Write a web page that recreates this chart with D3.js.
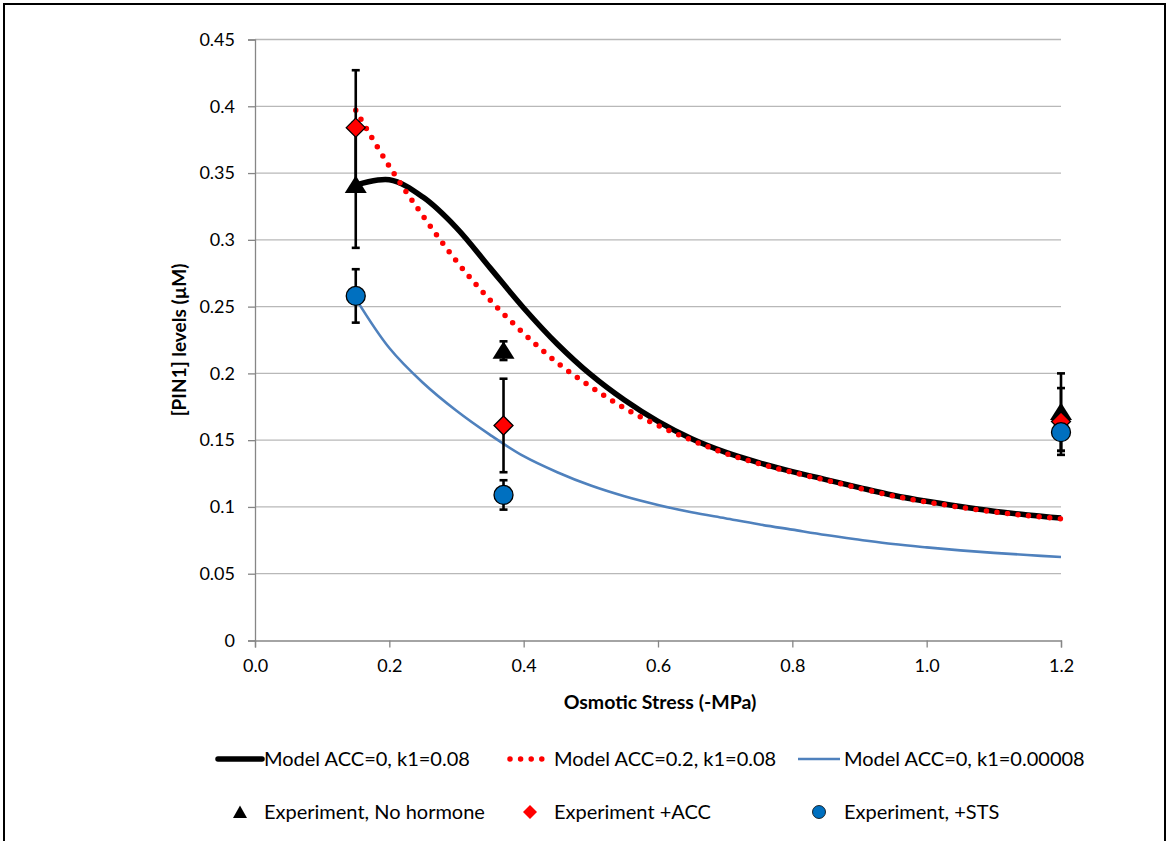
<!DOCTYPE html>
<html>
<head>
<meta charset="utf-8">
<script src="https://cdn.jsdelivr.net/npm/d3@7"></script>
<style>
  html, body { margin: 0; padding: 0; background: #fff; }
  svg text { font-family: Lato, "Open Sans", "Liberation Sans", sans-serif; fill: #000; }
</style>
</head>
<body>
<svg id="chart" width="1169" height="841"></svg>
<script>
// ---- Data ----
const xModel = [0.15, 0.2, 0.25, 0.3, 0.35, 0.4, 0.45, 0.5, 0.55, 0.6, 0.65, 0.7, 0.75, 0.8, 0.85, 0.9, 0.95, 1.0, 1.05, 1.1, 1.15, 1.2];
const modelAcc0 = [0.341, 0.345, 0.332, 0.309, 0.279, 0.249, 0.222, 0.199, 0.180, 0.164, 0.151, 0.141, 0.1332, 0.1265, 0.1205, 0.1145, 0.1088, 0.1042, 0.1003, 0.0968, 0.0940, 0.0917];
const modelAcc02 = [0.397, 0.355, 0.318, 0.284, 0.255, 0.230, 0.208, 0.190, 0.174, 0.161, 0.150, 0.1402, 0.1325, 0.1259, 0.1200, 0.1140, 0.1083, 0.1037, 0.0998, 0.0963, 0.0935, 0.0912];
const modelLowK1 = [0.256, 0.219, 0.193, 0.172, 0.154, 0.138, 0.126, 0.116, 0.108, 0.1015, 0.096, 0.0915, 0.087, 0.083, 0.079, 0.0755, 0.0722, 0.0697, 0.0675, 0.0656, 0.064, 0.0625];

const xExp = [0.15, 0.37, 1.2];
const expNoHormone = [0.341, 0.217, 0.171];
const expNoHormoneErr = [0.047, 0.007, 0.029];
const expAcc = [0.384, 0.161, 0.164];
const expAccErr = [0.043, 0.035, 0.025];
const expSts = [0.258, 0.109, 0.156];
const expStsErr = [0.020, 0.011, 0.014];

const yTicks = [0, 0.05, 0.1, 0.15, 0.2, 0.25, 0.3, 0.35, 0.4, 0.45];
const xTicks = [0, 0.2, 0.4, 0.6, 0.8, 1.0, 1.2];

const lineLabels = ["Model ACC=0, k1=0.08", "Model ACC=0.2, k1=0.08", "Model ACC=0, k1=0.00008"];
const markerLabels = ["Experiment, No hormone", "Experiment +ACC", "Experiment, +STS"];

// ---- Layout ----
const svg = d3.select("#chart");
const pLeft = 255, pRight = 1061, pTop = 39.5, pBottom = 640.5;
const x = d3.scaleLinear().domain([0, 1.2]).range([pLeft, pRight]);
const y = d3.scaleLinear().domain([0, 0.45]).range([pBottom, pTop]);

const gridColor = "#b8b8b8", axisColor = "#868686";
const blackC = "#000000", redC = "#ff0000", blueC = "#4f81bd", circleC = "#0070c0";

// border
svg.append("rect").attr("x", 4).attr("y", 4).attr("width", 1161).attr("height", 860)
  .attr("fill", "none").attr("stroke", "#000").attr("stroke-width", 2);

// gridlines
svg.append("g").selectAll("line").data(yTicks.filter(d => d > 0)).join("line")
  .attr("x1", pLeft).attr("x2", pRight)
  .attr("y1", d => y(d)).attr("y2", d => y(d))
  .attr("stroke", gridColor).attr("stroke-width", 1.3);

// axes
const yAxis = d3.axisLeft(y).tickValues(yTicks).tickSize(7).tickPadding(13)
  .tickFormat(d => d === 0 ? "0" : String(+d.toFixed(2)));
const gy = svg.append("g").attr("transform", `translate(${pLeft},0)`).call(yAxis);
gy.select(".domain").attr("stroke", axisColor).attr("stroke-width", 1.3);
gy.selectAll(".tick line").attr("stroke", axisColor).attr("stroke-width", 1.3);
gy.selectAll(".tick text").style("font-size", "18px").attr("fill", "#000");

const xAxis = d3.axisBottom(x).tickValues(xTicks).tickSize(7).tickPadding(12)
  .tickFormat(d3.format(".1f"));
const gx = svg.append("g").attr("transform", `translate(0,${pBottom})`).call(xAxis);
gx.select(".domain").attr("stroke", axisColor).attr("stroke-width", 1.3);
gx.selectAll(".tick line").attr("stroke", axisColor).attr("stroke-width", 1.3);
gx.selectAll(".tick text").style("font-size", "18px").attr("fill", "#000");

// axis titles
svg.append("text").attr("x", (pLeft + pRight) / 2 + 2).attr("y", 709)
  .attr("text-anchor", "middle").style("font-size", "19.5px").style("font-weight", "bold")
  .text("Osmotic Stress (-MPa)");
svg.append("text").attr("transform", `translate(186,${(pTop + pBottom) / 2}) rotate(-90)`)
  .attr("text-anchor", "middle").style("font-size", "19px").style("font-weight", "bold")
  .text("[PIN1] levels (µM)");

// model lines
const line = d3.line().x(d => x(d[0])).y(d => y(d[1])).curve(d3.curveCatmullRom.alpha(0.5));
const zipM = arr => xModel.map((xv, i) => [xv, arr[i]]);

svg.append("path").datum(zipM(modelAcc0)).attr("d", line)
  .attr("fill", "none").attr("stroke", blackC).attr("stroke-width", 5.5).attr("stroke-linejoin", "round");
svg.append("path").datum(zipM(modelAcc02)).attr("d", line)
  .attr("fill", "none").attr("stroke", redC).attr("stroke-width", 5.5)
  .attr("stroke-linecap", "round").attr("stroke-dasharray", "0,10.6");
svg.append("path").datum(zipM(modelLowK1)).attr("d", line)
  .attr("fill", "none").attr("stroke", blueC).attr("stroke-width", 2.6);

// error bars
function errorBars(vals, errs) {
  const g = svg.append("g");
  xExp.forEach((xv, i) => {
    const x0 = x(xv), y1 = y(vals[i] + errs[i]), y2 = y(vals[i] - errs[i]);
    g.append("line").attr("x1", x0).attr("x2", x0).attr("y1", y1).attr("y2", y2)
      .attr("stroke", "#000").attr("stroke-width", 2.6);
    [y1, y2].forEach(yy => g.append("line").attr("x1", x0 - 4).attr("x2", x0 + 4)
      .attr("y1", yy).attr("y2", yy).attr("stroke", "#000").attr("stroke-width", 2.6));
  });
}
errorBars(expNoHormone, expNoHormoneErr);
errorBars(expAcc, expAccErr);
errorBars(expSts, expStsErr);

// markers
const triPath = "M0,-9.5 L11,8 L-11,8 Z";
const diaPath = "M0,-9.5 L9.5,0 L0,9.5 L-9.5,0 Z";
svg.append("g").selectAll("path").data(xExp.map((xv, i) => [xv, expNoHormone[i]])).join("path")
  .attr("d", triPath).attr("transform", d => `translate(${x(d[0])},${y(d[1])})`)
  .attr("fill", "#000");
svg.append("g").selectAll("path").data(xExp.map((xv, i) => [xv, expAcc[i]])).join("path")
  .attr("d", diaPath).attr("transform", d => `translate(${x(d[0])},${y(d[1])})`)
  .attr("fill", "#ff0000").attr("stroke", "#000").attr("stroke-width", 1.3);
svg.append("g").selectAll("circle").data(xExp.map((xv, i) => [xv, expSts[i]])).join("circle")
  .attr("cx", d => x(d[0])).attr("cy", d => y(d[1])).attr("r", 9.5)
  .attr("fill", circleC).attr("stroke", "#000").attr("stroke-width", 1.3);

// legend
const legY1 = 759, legY2 = 812;
const legFont = "20px";
const lineLeg = [
  { x0: 218, x1: 262, tx: 264, stroke: blackC, w: 5.5, dash: null, cap: "round" },
  { x0: 510, x1: 548, tx: 554, stroke: redC, w: 5.5, dash: "0,10.6", cap: "round" },
  { x0: 798, x1: 840, tx: 844, stroke: blueC, w: 2.6, dash: null, cap: "butt" }
];
lineLeg.forEach((d, i) => {
  svg.append("line").attr("x1", d.x0).attr("x2", d.x1).attr("y1", legY1).attr("y2", legY1)
    .attr("stroke", d.stroke).attr("stroke-width", d.w).attr("stroke-linecap", d.cap)
    .attr("stroke-dasharray", d.dash);
  svg.append("text").attr("x", d.tx).attr("y", legY1).attr("dy", "0.35em")
    .style("font-size", legFont).text(lineLabels[i]);
});
const mk = [
  { cx: 240, tx: 264 }, { cx: 530, tx: 554 }, { cx: 819, tx: 844 }
];
svg.append("path").attr("d", "M0,-6.5 L7,6 L-7,6 Z").attr("transform", `translate(${mk[0].cx},${legY2})`).attr("fill", "#000");
svg.append("path").attr("d", "M0,-7 L7,0 L0,7 L-7,0 Z").attr("transform", `translate(${mk[1].cx},${legY2})`).attr("fill", "#ff0000");
svg.append("circle").attr("cx", mk[2].cx).attr("cy", legY2).attr("r", 6.5).attr("fill", circleC).attr("stroke", "#000").attr("stroke-width", 0.8);
mk.forEach((d, i) => {
  svg.append("text").attr("x", d.tx).attr("y", legY2).attr("dy", "0.35em")
    .style("font-size", legFont).text(markerLabels[i]);
});
</script>
</body>
</html>
